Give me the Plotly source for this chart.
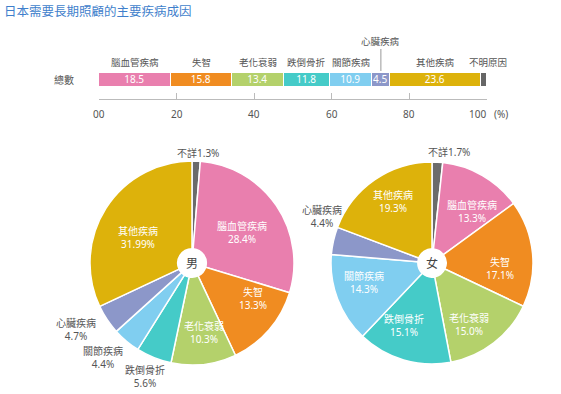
import plotly.graph_objects as go

# ---------------- data ----------------
title_text = "日本需要長期照顧的主要疾病成因"
bar_categories = ["腦血管疾病", "失智", "老化衰弱", "跌倒骨折", "關節疾病", "心臟疾病", "其他疾病", "不明原因"]
bar_values = [18.5, 15.8, 13.4, 11.8, 10.9, 4.5, 23.6, 1.6]
bar_row_label = "總數"
axis_tick_vals = [0, 20, 40, 60, 80, 100]
axis_tick_text = ["00", "20", "40", "60", "80", "100"]
axis_unit = "(%)"

pie_labels = ["不詳", "腦血管疾病", "失智", "老化衰弱", "跌倒骨折", "關節疾病", "心臟疾病", "其他疾病"]
male_values = [1.3, 28.4, 13.3, 10.3, 5.6, 4.4, 4.7, 31.99]
female_values = [1.7, 13.3, 17.1, 15.0, 15.1, 14.3, 4.4, 19.3]

# ---------------- styles / layout ----------------
W, H = 561, 394
bar_colors = ["#E97FAE", "#F08C21", "#B4D16B", "#45CBC8", "#80CEF0", "#8C97C9", "#DDB20B", "#666666"]
pie_colors = ["#6B6B6B", "#E97FAE", "#F08C21", "#B4D16B", "#45CBC8", "#80CEF0", "#8C97C9", "#DDB20B"]
FONT = "Noto Sans, Noto Sans CJK TC"
GRAY = "#555555"

# label anchor positions (pixels) for each pie slice, and whether the label sits inside
male_label_px = [(198, 153), (242, 232), (253, 298), (204, 332), (145, 376), (103, 357), (76, 329), (138, 237)]
male_inside = [False, True, True, True, False, False, False, True]
female_label_px = [(449, 152), (472, 211), (500, 268), (469, 324), (404, 325), (364, 282), (322, 216), (393, 201)]
female_inside = [False, True, True, True, True, True, False, True]


def px_x(p):
    return p / W


def px_y(p):
    return 1 - p / H


def note(**kw):
    kw.setdefault("xanchor", "center")
    kw.setdefault("yanchor", "middle")
    kw.setdefault("showarrow", False)
    fig.add_annotation(**kw)


fig = go.Figure()

# ---------- stacked bar ----------
for i, (cat, val, col) in enumerate(zip(bar_categories, bar_values, bar_colors)):
    last = i == len(bar_categories) - 1
    fig.add_trace(go.Bar(
        x=[val], y=[0], orientation="h", name=cat,
        marker=dict(color=col, line=dict(color="white", width=1.5)),
        text=[str(val)], textposition="outside" if last else "inside",
        insidetextanchor="middle", constraintext="none",
        textfont=dict(color=GRAY if last else "white", size=10, family=FONT),
        showlegend=False, hoverinfo="skip", cliponaxis=False,
        xaxis="x", yaxis="y",
    ))

# invisible trace carrying the tick axis
fig.add_trace(go.Scatter(x=[0, 100], y=[0, 0], mode="markers", marker=dict(opacity=0),
                         xaxis="x2", yaxis="y", showlegend=False, hoverinfo="skip"))

# category labels above the bar
cum = 0
for i, (cat, val) in enumerate(zip(bar_categories, bar_values)):
    mid = cum + val / 2
    cum += val
    if cat == "心臟疾病":
        note(x=mid, y=px_y(41), xref="x", yref="paper", text=cat,
             font=dict(size=9.5, color=GRAY, family=FONT))
        fig.add_shape(type="line", x0=mid, x1=mid, xref="x", y0=px_y(49), y1=px_y(71), yref="paper",
                      line=dict(color="#999999", width=1))
    else:
        note(x=mid, y=px_y(63), xref="x", yref="paper", text=cat,
             xshift=4 if i == len(bar_categories) - 1 else 0,
             font=dict(size=9.5, color=GRAY, family=FONT))

note(x=px_x(64), y=px_y(80), xref="paper", yref="paper", text=bar_row_label,
     font=dict(size=10, color=GRAY, family=FONT))

# tick labels of the scale axis
for tv, tt in zip(axis_tick_vals, axis_tick_text):
    last = tv == axis_tick_vals[-1]
    note(x=tv, y=px_y(114), xref="x", yref="paper", text=tt,
         xanchor="right" if last else "center", xshift=1 if last else 0,
         font=dict(size=10, color=GRAY, family=FONT))
note(x=axis_tick_vals[-1], y=px_y(114), xref="x", yref="paper", text=axis_unit,
     xanchor="left", xshift=5, font=dict(size=10, color=GRAY, family=FONT))


# ---------- pies ----------
def pie_text(lab, v):
    return f"{lab}{v}%" if lab == "不詳" else f"{lab}<br>{v}%"


for vals, inside, lpx, dom, center in [
    (male_values, male_inside, male_label_px,
     dict(x=[px_x(90), px_x(294)], y=[px_y(365), px_y(161)]), "男"),
    (female_values, female_inside, female_label_px,
     dict(x=[px_x(331), px_x(533)], y=[px_y(364), px_y(162)]), "女"),
]:
    fig.add_trace(go.Pie(
        labels=pie_labels, values=vals, sort=False, direction="clockwise", rotation=0,
        hole=0.14, domain=dom,
        marker=dict(colors=pie_colors, line=dict(color="white", width=1.5)),
        textinfo="none", showlegend=False, hoverinfo="skip",
    ))
    for lab, v, ins, (lx, ly) in zip(pie_labels, vals, inside, lpx):
        note(x=px_x(lx), y=px_y(ly), xref="paper", yref="paper",
             text=pie_text(lab, v), align="center",
             font=dict(size=10, color="white" if ins else GRAY, family=FONT))
    note(x=(dom["x"][0] + dom["x"][1]) / 2, y=(dom["y"][0] + dom["y"][1]) / 2,
         xref="paper", yref="paper", text=center,
         font=dict(size=12, color="#444444", family=FONT))

fig.update_layout(
    width=W, height=H, margin=dict(l=0, r=0, t=0, b=0, autoexpand=False),
    paper_bgcolor="white", plot_bgcolor="rgba(0,0,0,0)",
    barmode="stack", bargap=0,
    font=dict(family=FONT, color=GRAY),
    title=dict(text=title_text, x=px_x(4), y=px_y(12), xref="paper", yref="container",
               xanchor="left", yanchor="middle",
               font=dict(size=12.5, color="#3F7FCC", family=FONT)),
    xaxis=dict(domain=[px_x(99), px_x(487)], range=[0, 100], visible=False, fixedrange=True),
    yaxis=dict(domain=[px_y(87), px_y(73)], range=[-0.5, 0.5], visible=False, fixedrange=True),
    xaxis2=dict(domain=[px_x(99), px_x(487)], range=[0, 100], overlaying="x", anchor="free",
                position=px_y(99), side="bottom", showline=True, linecolor="#BBBBBB", linewidth=1,
                ticks="inside", ticklen=6, tickcolor="#BBBBBB", tickwidth=1,
                tickvals=axis_tick_vals, showticklabels=False, showgrid=False, zeroline=False,
                automargin=False, fixedrange=True),
)

fig.write_html("out.html", post_script="document.body.style.margin='0';",
               config={"displayModeBar": False})
